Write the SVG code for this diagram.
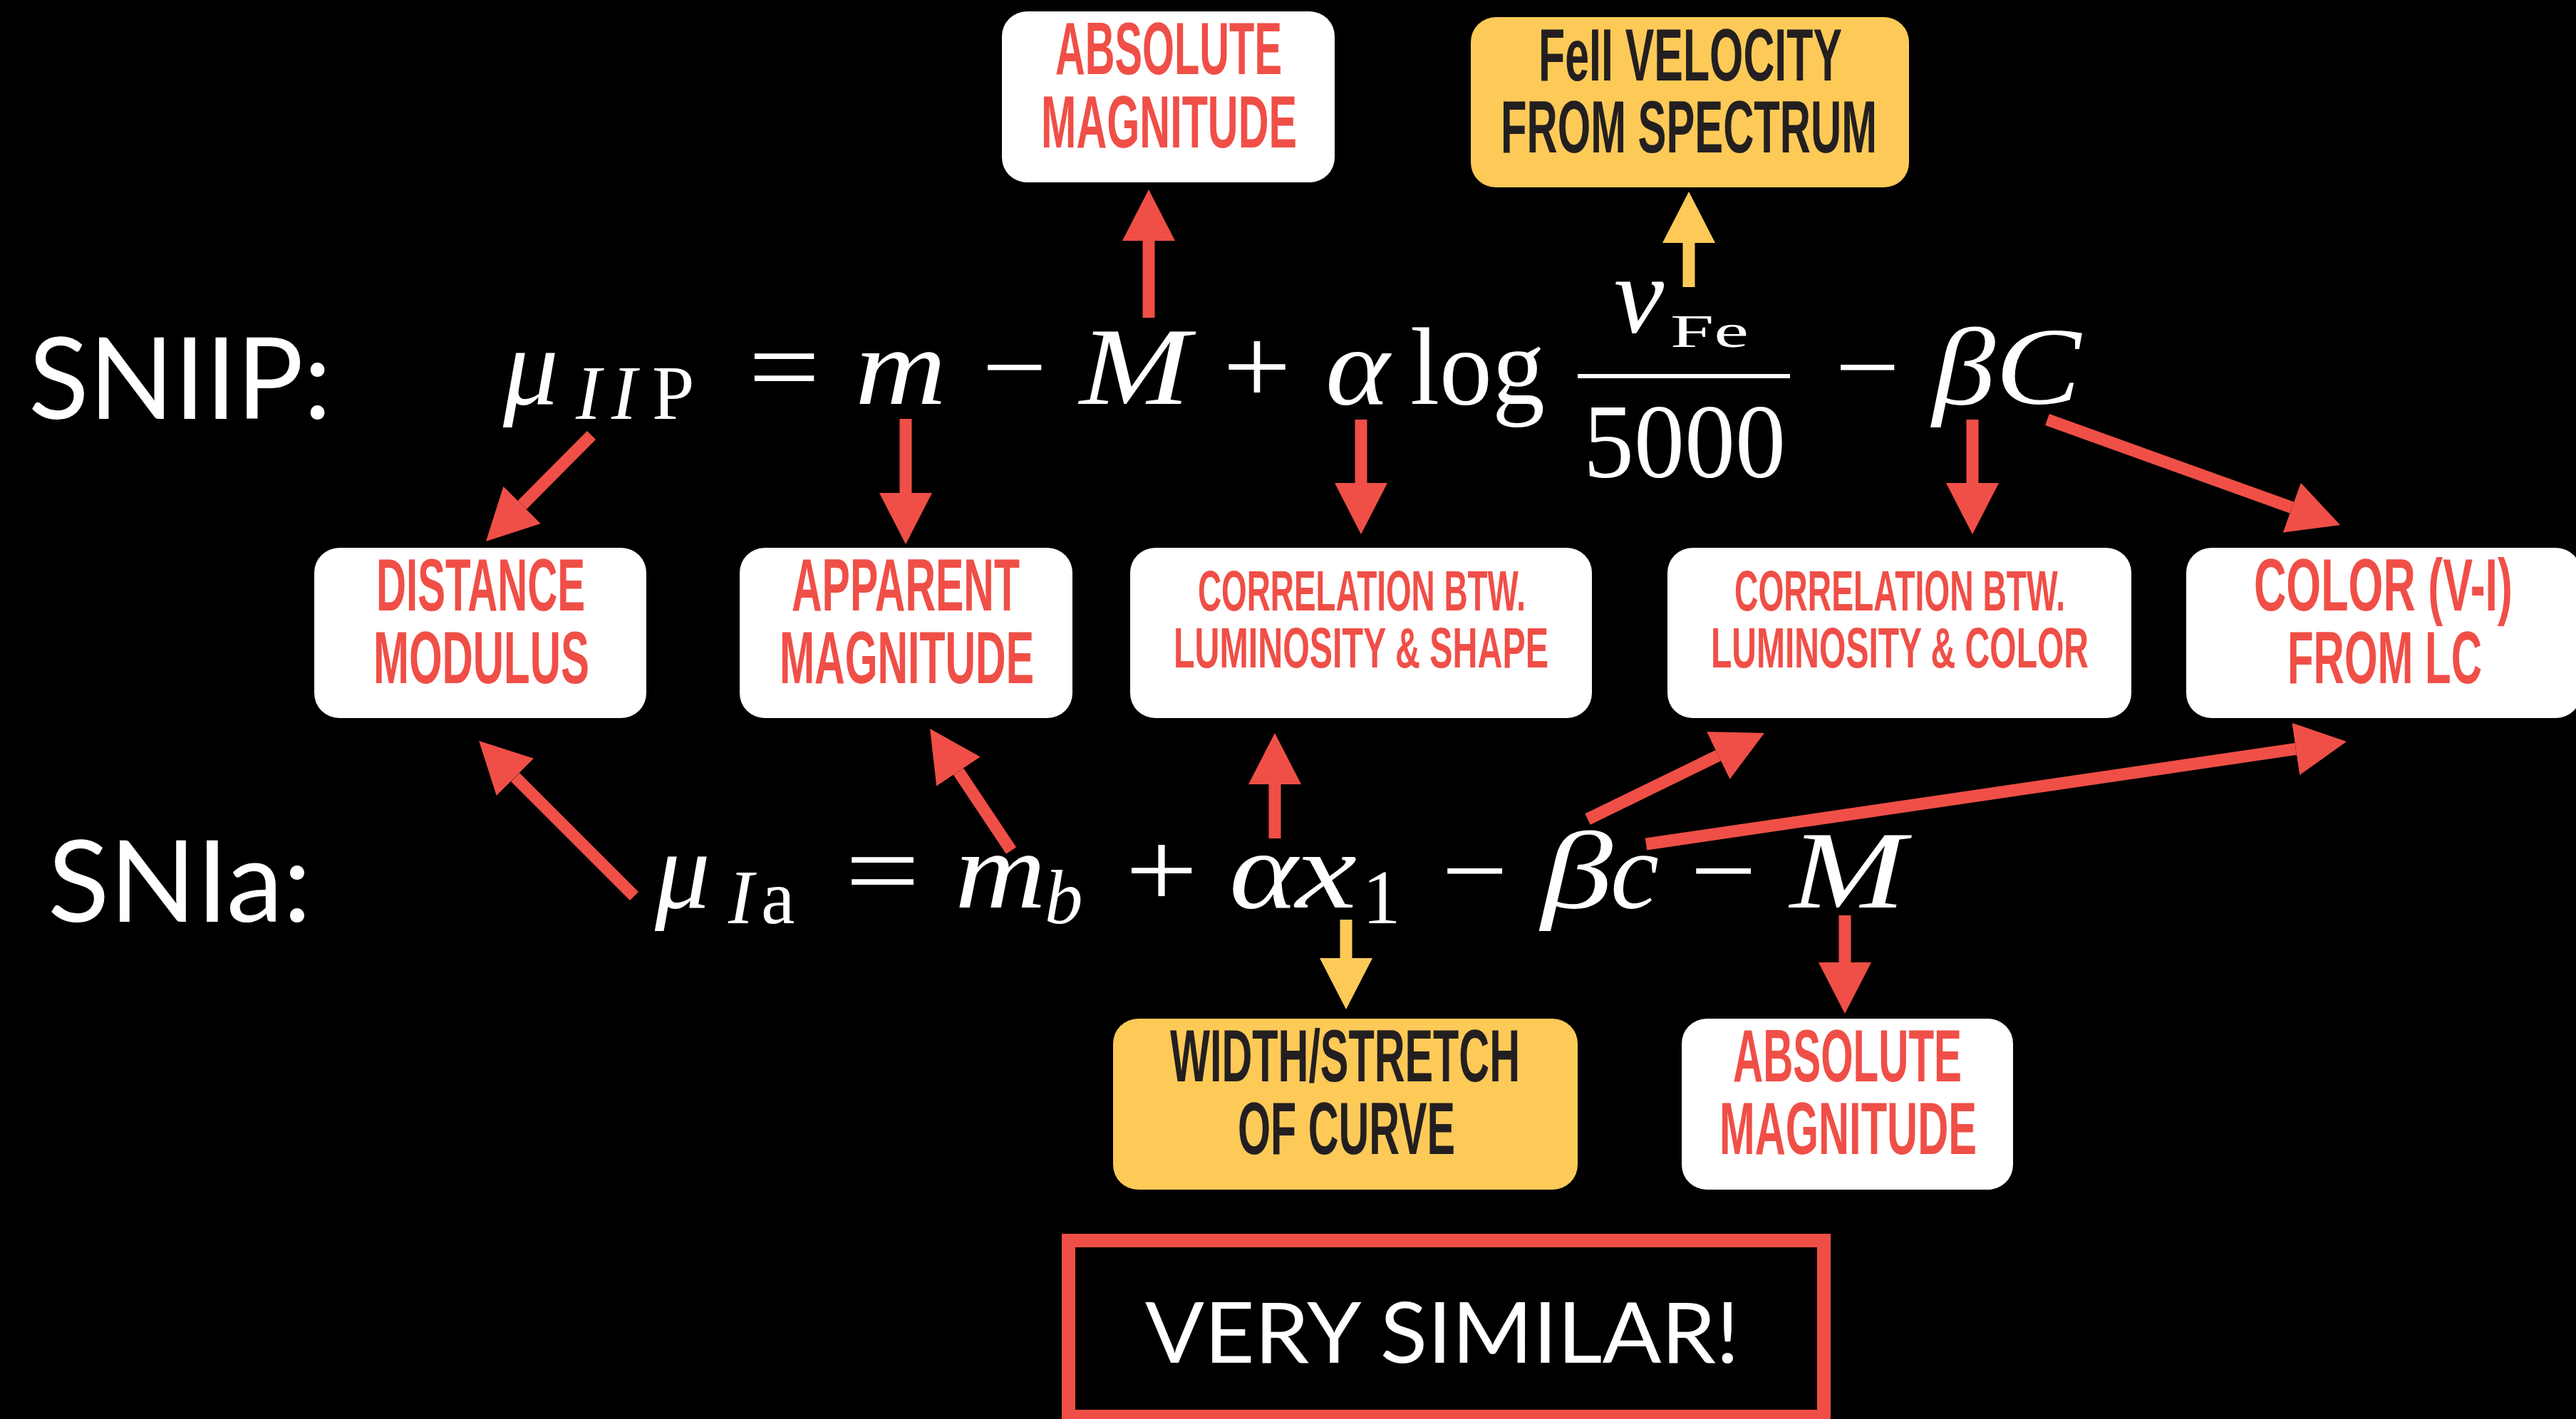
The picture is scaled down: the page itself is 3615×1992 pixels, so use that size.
<svg xmlns="http://www.w3.org/2000/svg" width="3615" height="1992" viewBox="0 0 3615 1992">
<style>
.box{fill:#ffffff}
.ybox{fill:#FDCA58}
.lbl{font-family:"Liberation Sans",Arial,sans-serif;font-weight:bold;fill:#EF4F47}
.dlbl{font-family:"Liberation Sans",Arial,sans-serif;font-weight:bold;fill:#231F20}
.big{font-size:103px}
.mid{font-size:80px}
.side{font-family:Lato,"Open Sans",sans-serif;font-size:160px;fill:#ffffff}
.m{font-family:"Liberation Serif","Times New Roman",serif;fill:#ffffff}
.i{font-style:italic}
.r{stroke:#EF4F47;stroke-width:17;fill:none;marker-end:url(#hr)}
.y{stroke:#FDCA58;stroke-width:17;fill:none;marker-end:url(#hy)}
</style>
<defs>
<marker id="hr" markerUnits="userSpaceOnUse" viewBox="0 0 72 74" markerWidth="72" markerHeight="74" refX="0" refY="37" orient="auto"><path d="M0,0 L72,37 L0,74 Z" fill="#EF4F47"/></marker>
<marker id="hy" markerUnits="userSpaceOnUse" viewBox="0 0 72 74" markerWidth="72" markerHeight="74" refX="0" refY="37" orient="auto"><path d="M0,0 L72,37 L0,74 Z" fill="#FDCA58"/></marker>
</defs>
<rect x="0" y="0" width="3615" height="1992" fill="#000000"/>

<g id="labels">
<text class="side" x="40" y="588" textLength="425" lengthAdjust="spacingAndGlyphs">SNIIP:</text>
<text class="side" x="67" y="1294" textLength="370" lengthAdjust="spacingAndGlyphs">SNIa:</text>
</g>

<g id="eq-sniip" class="m" font-size="155">
<text class="i" x="706" y="567">μ</text>
<text class="i" x="808" y="588" font-size="107">I</text>
<text class="i" x="858" y="588" font-size="107">I</text>
<text x="915" y="588" font-size="107">P</text>
<text x="1050" y="567" textLength="101" lengthAdjust="spacingAndGlyphs">=</text>
<text class="i" x="1200" y="567" textLength="128" lengthAdjust="spacingAndGlyphs">m</text>
<text x="1378" y="567" textLength="91" lengthAdjust="spacingAndGlyphs">−</text>
<text class="i" x="1515" y="567" textLength="155" lengthAdjust="spacingAndGlyphs">M</text>
<text x="1716" y="567" textLength="96" lengthAdjust="spacingAndGlyphs">+</text>
<text class="i" x="1860" y="567" textLength="90" lengthAdjust="spacingAndGlyphs">α</text>
<text x="1979" y="567" textLength="189" lengthAdjust="spacingAndGlyphs">log</text>
<rect x="2214" y="525" width="298" height="6" fill="#ffffff"/>
<text class="i" x="2265" y="466" textLength="70" lengthAdjust="spacingAndGlyphs">v</text>
<text x="2344" y="487" font-size="66" textLength="110" lengthAdjust="spacingAndGlyphs">Fe</text>
<text x="2222" y="670" font-size="148" textLength="284" lengthAdjust="spacingAndGlyphs">5000</text>
<text x="2575" y="567" textLength="91" lengthAdjust="spacingAndGlyphs">−</text>
<text class="i" x="2712" y="567" textLength="88" lengthAdjust="spacingAndGlyphs">β</text>
<text class="i" x="2800" y="567" textLength="120" lengthAdjust="spacingAndGlyphs">C</text>
</g>

<g id="eq-snia" class="m" font-size="155">
<text class="i" x="919" y="1274">μ</text>
<text class="i" x="1022" y="1296" font-size="107">I</text>
<text x="1068" y="1296" font-size="107">a</text>
<text x="1186" y="1274" textLength="105" lengthAdjust="spacingAndGlyphs">=</text>
<text class="i" x="1340" y="1274" textLength="128" lengthAdjust="spacingAndGlyphs">m</text>
<text class="i" x="1466" y="1296" font-size="107">b</text>
<text x="1579" y="1274" textLength="102" lengthAdjust="spacingAndGlyphs">+</text>
<text class="i" x="1725" y="1274" textLength="96" lengthAdjust="spacingAndGlyphs">α</text>
<text class="i" x="1818" y="1274" textLength="86" lengthAdjust="spacingAndGlyphs">x</text>
<text x="1912" y="1296" font-size="107">1</text>
<text x="2023" y="1274" textLength="93" lengthAdjust="spacingAndGlyphs">−</text>
<text class="i" x="2163" y="1274" textLength="100" lengthAdjust="spacingAndGlyphs">β</text>
<text class="i" x="2260" y="1274" textLength="68" lengthAdjust="spacingAndGlyphs">c</text>
<text x="2372" y="1274" textLength="93" lengthAdjust="spacingAndGlyphs">−</text>
<text class="i" x="2512" y="1274" textLength="162" lengthAdjust="spacingAndGlyphs">M</text>
</g>

<g id="node-abs-top">
<rect class="box" x="1406" y="16" width="467" height="240" rx="35"/>
<text class="lbl big" transform="scale(0.58,1)" lengthAdjust="spacingAndGlyphs"><tspan x="2553.4" y="104" textLength="548.3" lengthAdjust="spacingAndGlyphs">ABSOLUTE</tspan><tspan x="2519" y="207" textLength="619" lengthAdjust="spacingAndGlyphs">MAGNITUDE</tspan></text>
</g>
<g id="node-feii">
<rect class="ybox" x="2064" y="24" width="615" height="239" rx="35"/>
<text class="dlbl big" transform="scale(0.58,1)" font-size="105"><tspan x="3722.4" y="113" textLength="734.5" lengthAdjust="spacingAndGlyphs">FeII VELOCITY</tspan><tspan x="3631" y="214" textLength="910.3" lengthAdjust="spacingAndGlyphs">FROM SPECTRUM</tspan></text>
</g>
<g id="node-distance">
<rect class="box" x="441" y="769" width="466" height="239" rx="35"/>
<text class="lbl big" transform="scale(0.58,1)"><tspan x="910.3" y="857" textLength="505.2" lengthAdjust="spacingAndGlyphs">DISTANCE</tspan><tspan x="903.4" y="959" textLength="522.4" lengthAdjust="spacingAndGlyphs">MODULUS</tspan></text>
</g>
<g id="node-apparent">
<rect class="box" x="1038" y="769" width="467" height="239" rx="35"/>
<text class="lbl big" transform="scale(0.58,1)"><tspan x="1915.5" y="857" textLength="551.7" lengthAdjust="spacingAndGlyphs">APPARENT</tspan><tspan x="1886.2" y="959" textLength="615.5" lengthAdjust="spacingAndGlyphs">MAGNITUDE</tspan></text>
</g>
<g id="node-corr-shape">
<rect class="box" x="1586" y="769" width="648" height="239" rx="35"/>
<text class="lbl mid" transform="scale(0.58,1)"><tspan x="2898.3" y="857" textLength="793.1" lengthAdjust="spacingAndGlyphs">CORRELATION BTW.</tspan><tspan x="2839.7" y="937" textLength="906.9" lengthAdjust="spacingAndGlyphs">LUMINOSITY &amp; SHAPE</tspan></text>
</g>
<g id="node-corr-color">
<rect class="box" x="2340" y="769" width="651" height="239" rx="35"/>
<text class="lbl mid" transform="scale(0.58,1)"><tspan x="4196.6" y="857" textLength="800" lengthAdjust="spacingAndGlyphs">CORRELATION BTW.</tspan><tspan x="4139.7" y="937" textLength="913.8" lengthAdjust="spacingAndGlyphs">LUMINOSITY &amp; COLOR</tspan></text>
</g>
<g id="node-color">
<rect class="box" x="3068" y="769" width="554" height="239" rx="35"/>
<text class="lbl big" transform="scale(0.58,1)"><tspan x="5453.4" y="857" textLength="625.9" lengthAdjust="spacingAndGlyphs">COLOR (V-I)</tspan><tspan x="5534.5" y="959" textLength="470.7" lengthAdjust="spacingAndGlyphs">FROM LC</tspan></text>
</g>
<g id="node-width">
<rect class="ybox" x="1562" y="1430" width="652" height="240" rx="35"/>
<text class="dlbl big" transform="scale(0.58,1)" font-size="104"><tspan x="2831" y="1518" textLength="846.6" lengthAdjust="spacingAndGlyphs">WIDTH/STRETCH</tspan><tspan x="2994.8" y="1620" textLength="525.9" lengthAdjust="spacingAndGlyphs">OF CURVE</tspan></text>
</g>
<g id="node-abs-bottom">
<rect class="box" x="2360" y="1430" width="465" height="240" rx="35"/>
<text class="lbl big" transform="scale(0.58,1)" font-size="104"><tspan x="4193.1" y="1518" textLength="553.4" lengthAdjust="spacingAndGlyphs">ABSOLUTE</tspan><tspan x="4160.3" y="1620" textLength="622.4" lengthAdjust="spacingAndGlyphs">MAGNITUDE</tspan></text>
</g>
<g id="node-similar">
<rect x="1499.5" y="1741.5" width="1060" height="247" fill="none" stroke="#EF4F47" stroke-width="19"/>
<text x="1607" y="1913" font-family="Lato,'Open Sans',sans-serif" font-size="119" fill="#ffffff" textLength="834" lengthAdjust="spacingAndGlyphs">VERY SIMILAR!</text>
</g>

<g id="connectors">
<line class="r" x1="1612" y1="446" x2="1612" y2="338"/>
<line class="y" x1="2370" y1="403" x2="2370" y2="341"/>
<line class="r" x1="830" y1="611" x2="732.7" y2="708.9"/>
<line class="r" x1="1271" y1="588" x2="1271" y2="692"/>
<line class="r" x1="1910" y1="589" x2="1910" y2="678"/>
<line class="r" x1="2768" y1="589" x2="2768" y2="678"/>
<line class="r" x1="2873" y1="589" x2="3216.3" y2="712.6"/>
<line class="r" x1="890" y1="1258" x2="723" y2="1091"/>
<line class="r" x1="1419" y1="1194" x2="1345" y2="1083"/>
<line class="r" x1="1789" y1="1177" x2="1789" y2="1101"/>
<line class="y" x1="1889" y1="1291" x2="1889" y2="1345"/>
<line class="r" x1="2228" y1="1150" x2="2411.3" y2="1060.6"/>
<line class="r" x1="2310" y1="1185" x2="3221.8" y2="1051.4"/>
<line class="r" x1="2589" y1="1285" x2="2589" y2="1351"/>
</g>
</svg>
